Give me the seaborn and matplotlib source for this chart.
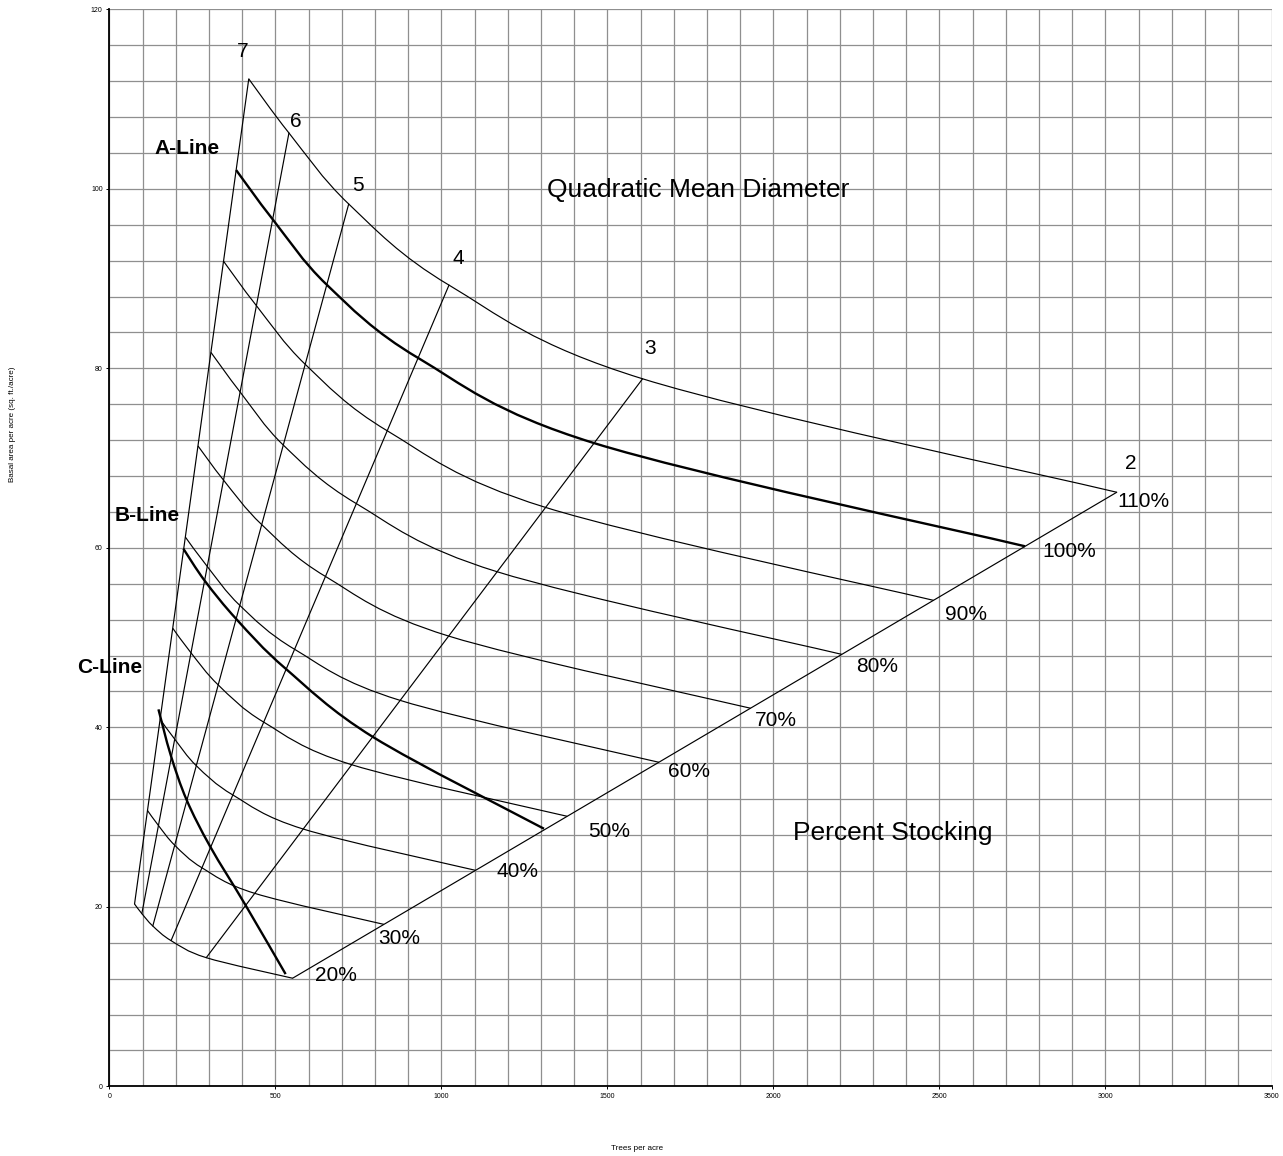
import numpy as np
import pandas as pd
import matplotlib
matplotlib.use("Agg")
import matplotlib.pyplot as plt
from matplotlib.path import Path
from matplotlib.patches import PathPatch
from matplotlib.ticker import MultipleLocator
import seaborn as sns

# Basal area of one tree (sq. ft.) per square inch of diameter
BA_FACTOR = 0.005454

# Quadratic mean diameter (inches) of each diameter line
qmd = [7, 6, 5, 4, 3, 2]

# Trees per acre at each diameter for every stocking level
stocking_pct = [110, 100, 90, 80, 70, 60, 50, 40, 30, 20]
tpa_110 = [420, 541, 721, 1023, 1606, 3034]
tpa_100 = [382, 492, 655, 930, 1460, 2758]
tpa_90 = [344, 443, 590, 837, 1314, 2482]
tpa_80 = [306, 394, 524, 744, 1168, 2206]
tpa_70 = [267, 344, 459, 651, 1022, 1931]
tpa_60 = [229, 295, 393, 558, 876, 1655]
tpa_50 = [191, 246, 328, 465, 730, 1379]
tpa_40 = [153, 197, 262, 372, 584, 1103]
tpa_30 = [115, 148, 197, 279, 438, 827]
tpa_20 = [76, 98, 131, 186, 292, 552]

# B-line and C-line (trees per acre, basal area)
b_line_tpa = [223, 288, 384, 529, 795, 1309]
b_line_ba = [59.9, 56.3, 52.0, 46.6, 38.9, 28.7]
c_line_tpa = [148, 185, 233, 304, 410, 531]
c_line_ba = [42.0, 36.9, 31.9, 26.7, 20.2, 12.5]

qmd_labels = ["7", "6", "5", "4", "3", "2"]
pct_labels = ["110%", "100%", "90%", "80%", "70%", "60%", "50%", "40%", "30%", "20%"]

stocking_tpa = dict(zip(stocking_pct, [tpa_110, tpa_100, tpa_90, tpa_80, tpa_70,
                                       tpa_60, tpa_50, tpa_40, tpa_30, tpa_20]))

rows = []
for pct, tpas in stocking_tpa.items():
    for d, n in zip(qmd, tpas):
        rows.append({"pct": pct, "qmd": d, "tpa": n, "ba": BA_FACTOR * d * d * n})
grid_df = pd.DataFrame(rows)

# ---- figure -------------------------------------------------------------
sns.set_theme(style="white")
plt.rcParams["font.family"] = ["Liberation Sans", "DejaVu Sans"]
plt.rcParams["text.color"] = "black"

fig = plt.figure(figsize=(12.83, 11.56), dpi=100)
ax = fig.add_axes([0.08519, 0.06029, 0.90585, 0.93166])


def smooth_path(xs, ys):
    """Smoothed line through the points (cubic Bezier, Catmull-Rom tangents)."""
    pts = np.column_stack([xs, ys]).astype(float)
    n = len(pts)
    verts = [pts[0]]
    codes = [Path.MOVETO]
    for i in range(n - 1):
        p0 = pts[i - 1] if i > 0 else pts[i]
        p1, p2 = pts[i], pts[i + 1]
        p3 = pts[i + 2] if i + 2 < n else pts[i + 1]
        verts += [p1 + (p2 - p0) / 6.0, p2 - (p3 - p1) / 6.0, p2]
        codes += [Path.CURVE4] * 3
    return Path(verts, codes)


def draw_curve(xs, ys, lw):
    ax.add_patch(PathPatch(smooth_path(xs, ys), fill=False, edgecolor="black",
                           lw=lw, capstyle="butt", joinstyle="round", zorder=3))


# stocking curves (the 100% curve is the A-line)
for pct in stocking_pct:
    sub = grid_df[grid_df["pct"] == pct]
    draw_curve(sub["tpa"].values, sub["ba"].values, 1.7 if pct == 100 else 0.85)

# B-line and C-line
draw_curve(b_line_tpa, b_line_ba, 1.7)
draw_curve(c_line_tpa, c_line_ba, 1.7)

# diameter lines run from 20% to 110% stocking
dia_df = grid_df[grid_df["pct"].isin([20, 110])].sort_values(["qmd", "pct"])
sns.lineplot(data=dia_df, x="tpa", y="ba", units="qmd", estimator=None, sort=False,
             color="black", lw=0.85, ax=ax, legend=False, zorder=3)

# axes, grid and ticks
ax.set_xlim(0, 3500)
ax.set_ylim(0, 120)
ax.xaxis.set_major_locator(MultipleLocator(500))
ax.xaxis.set_minor_locator(MultipleLocator(100))
ax.yaxis.set_major_locator(MultipleLocator(20))
ax.yaxis.set_minor_locator(MultipleLocator(4))
ax.grid(which="both", color="#8f8f8f", lw=0.9, zorder=0)
ax.set_axisbelow(True)
for side in ("top", "right"):
    ax.spines[side].set_visible(False)
for side in ("left", "bottom"):
    ax.spines[side].set_color("black")
    ax.spines[side].set_linewidth(1.3)
ax.tick_params(which="major", direction="out", length=2.2, width=0.7, pad=2.6,
               labelsize=5, colors="black", left=True, bottom=True)
ax.tick_params(which="minor", length=0)
ax.set_xlabel("")
ax.set_ylabel("")

fig.text(637 / 1283, 1 - 1148 / 1156, "Trees per acre", fontsize=5.8,
         ha="center", va="center")
fig.text(12.5 / 1283, 1 - 424 / 1156, "Basal area per acre (sq. ft./acre)",
         fontsize=5.8, rotation=90, ha="center", va="center")

# diameter labels
qmd_label_xy = [(402, 114.7), (562, 106.9), (750, 99.7), (1050, 91.6),
                (1630, 81.6), (3076, 68.8)]
for txt, (x, y) in zip(qmd_labels, qmd_label_xy):
    ax.text(x, y, txt, fontsize=15, ha="center", va="baseline", zorder=5)

# stocking labels
pct_label_xy = [(3035, 64.6), (2809, 59.0), (2517, 52.0), (2249, 46.2),
                (1945, 40.1), (1683, 34.5), (1442, 27.8), (1165, 23.3),
                (810, 15.9), (620, 11.7)]
for txt, (x, y) in zip(pct_labels, pct_label_xy):
    ax.text(x, y, txt, fontsize=15, ha="left", va="baseline", zorder=5)

# line names and titles
ax.text(135, 103.9, "A-Line", fontsize=15, fontweight="bold", ha="left", va="baseline")
ax.text(17, 63.0, "B-Line", fontsize=15, fontweight="bold", ha="left", va="baseline")
ax.text(-97, 46.1, "C-Line", fontsize=15, fontweight="bold", ha="left",
        va="baseline", clip_on=False)
ax.text(1318, 99.1, "Quadratic Mean Diameter", fontsize=19, ha="left", va="baseline")
ax.text(2059, 27.4, "Percent Stocking", fontsize=19, ha="left", va="baseline")

fig.savefig("out.png", dpi=100, facecolor="white")
